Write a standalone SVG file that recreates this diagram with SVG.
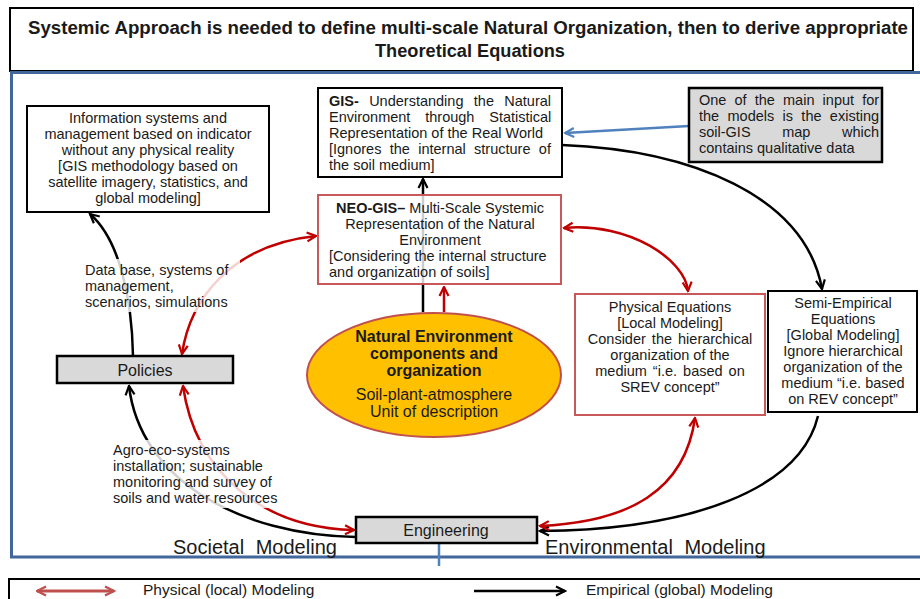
<svg xmlns="http://www.w3.org/2000/svg" width="920" height="599" viewBox="0 0 920 599">
<style>
  text { font-family: "Liberation Sans", Arial, sans-serif; fill: #1a1a1a; }
  .t { font-size: 14.5px; }
  .c { text-anchor: middle; }
  .b { font-weight: bold; }
  .box { fill: #fff; stroke: #000; stroke-width: 2; }
  .grey { fill: #d9d9d9; stroke: #000; stroke-width: 2.5; }
  .redbox { fill: #fff; stroke: #c9585a; stroke-width: 2; }
  .blk { fill: none; stroke: #000; stroke-width: 2.5; }
  .red { fill: none; stroke: #c00000; stroke-width: 2.5; }
  .blue { fill: none; stroke: #4f81bd; stroke-width: 2.5; }
  .frame { fill: none; stroke: #41679b; stroke-width: 3; }
  .lbl { fill: #fff; fill-opacity: 0.82; stroke: none; }
</style>
<defs>
  <marker id="ab" viewBox="0 0 12 12" refX="10.5" refY="6" markerWidth="12" markerHeight="12" markerUnits="userSpaceOnUse" orient="auto-start-reverse">
    <path d="M1.5,1.5 L10.5,6 L1.5,10.5" fill="none" stroke="#000" stroke-width="2.2"/>
  </marker>
  <marker id="ar" viewBox="0 0 12 12" refX="10.5" refY="6" markerWidth="12" markerHeight="12" markerUnits="userSpaceOnUse" orient="auto-start-reverse">
    <path d="M1.5,1.5 L10.5,6 L1.5,10.5" fill="none" stroke="#c00000" stroke-width="2.2"/>
  </marker>
  <marker id="abl" viewBox="0 0 12 12" refX="10.5" refY="6" markerWidth="12" markerHeight="12" markerUnits="userSpaceOnUse" orient="auto-start-reverse">
    <path d="M1.5,1.5 L10.5,6 L1.5,10.5" fill="none" stroke="#4f81bd" stroke-width="2.2"/>
  </marker>
  <marker id="arl" viewBox="0 0 12 12" refX="10.5" refY="6" markerWidth="12" markerHeight="12" markerUnits="userSpaceOnUse" orient="auto-start-reverse">
    <path d="M1.5,1.5 L10.5,6 L1.5,10.5" fill="none" stroke="#c0504d" stroke-width="2.4"/>
  </marker>
</defs>

<rect width="920" height="599" fill="#fff"/>

<!-- title -->
<g id="title">
  <rect x="10" y="8" width="903" height="63" class="box"/>
  <text x="28" y="34" class="b" font-size="18" textLength="880" lengthAdjust="spacingAndGlyphs">Systemic Approach is needed to define multi-scale Natural Organization, then to derive appropriate</text>
  <text x="470" y="57" class="b c" font-size="18" textLength="190" lengthAdjust="spacingAndGlyphs">Theoretical Equations</text>
</g>

<!-- frame -->
<g id="frame">
  <line x1="10" y1="72.5" x2="920" y2="72.5" class="frame"/>
  <line x1="11.5" y1="72" x2="11.5" y2="557" class="frame"/>
  <line x1="10" y1="557" x2="920" y2="557" class="frame"/>
  <line x1="439" y1="537" x2="439" y2="566" class="blue" stroke-width="2"/>
  <text x="173" y="554" font-size="20" word-spacing="6">Societal Modeling</text>
  <text x="545" y="554" font-size="20" word-spacing="6">Environmental Modeling</text>
</g>

<!-- connectors -->
<g id="connectors">
  <path d="M562,145 C690,150 805,195 822,289" class="blk" marker-end="url(#ab)"/>
  <path d="M818,416 C800,490 690,530 540,531" class="blk" marker-end="url(#ab)"/>
  <path d="M356,537 C240,535 140,480 129,386" class="blk" marker-end="url(#ab)"/>
  <path d="M133,356 C132,300 120,240 90,214" class="blk" marker-end="url(#ab)"/>
  <path d="M423,312 L423,179" class="blk" marker-end="url(#ab)"/>
  <path d="M182,354 C190,300 230,245 316,236" class="red" marker-start="url(#ar)" marker-end="url(#ar)"/>
  <path d="M564,228 C630,222 685,260 688,291" class="red" marker-start="url(#ar)" marker-end="url(#ar)"/>
  <path d="M444,312 L444,287" class="red" marker-end="url(#ar)"/>
  <path d="M183,386 C195,470 260,528 354,530" class="red" marker-start="url(#ar)" marker-end="url(#ar)"/>
  <path d="M695,418 C685,490 630,522 540,526" class="red" marker-start="url(#ar)" marker-end="url(#ar)"/>
  <path d="M689,126 L565,133" class="blue" marker-end="url(#abl)"/>
</g>

<!-- nodes -->
<g id="info">
  <rect x="27" y="106" width="242" height="106" class="box"/>
  <text class="t c" x="148" y="123">Information systems and</text>
  <text class="t c" x="148" y="139">management based on indicator</text>
  <text class="t c" x="148" y="155">without any physical reality</text>
  <text class="t c" x="148" y="171">[GIS methodology based on</text>
  <text class="t c" x="148" y="187">satellite imagery, statistics, and</text>
  <text class="t c" x="148" y="203">global modeling]</text>
</g>

<g id="gis">
  <rect x="318" y="88" width="244" height="89" class="box"/>
  <text class="t" x="329" y="106" word-spacing="6.3"><tspan class="b">GIS-</tspan> Understanding the Natural</text>
  <text class="t" x="329" y="122" word-spacing="10.8">Environment through Statistical</text>
  <text class="t" x="329" y="138">Representation of the Real World</text>
  <text class="t" x="329" y="154" word-spacing="4.3">[Ignores the internal structure of</text>
  <text class="t" x="329" y="170">the soil medium]</text>
</g>

<g id="soilgis">
  <rect x="689" y="88" width="193" height="74" class="grey"/>
  <text class="t" x="699" y="105" word-spacing="4.1">One of the main input for</text>
  <text class="t" x="699" y="121" word-spacing="4.3">the models is the existing</text>
  <text class="t" x="699" y="137" word-spacing="27.6">soil-GIS map which</text>
  <text class="t" x="699" y="153">contains qualitative data</text>
</g>

<g id="neogis">
  <rect x="318" y="195" width="243" height="89" class="redbox" fill-opacity="0.8"/>
  <text class="t c" x="440" y="213"><tspan class="b">NEO-GIS–</tspan>  Multi-Scale Systemic</text>
  <text class="t c" x="440" y="229">Representation of the Natural</text>
  <text class="t c" x="440" y="245">Environment</text>
  <text class="t" x="329" y="261">[Considering the internal structure</text>
  <text class="t" x="329" y="277">and organization of soils]</text>
</g>

<g id="natural">
  <ellipse cx="434" cy="375" rx="127" ry="62" fill="#ffc000" stroke="#c0504d" stroke-width="2"/>
  <text class="b c" font-size="16" x="434" y="342">Natural Environment</text>
  <text class="b c" font-size="16" x="434" y="359">components and</text>
  <text class="b c" font-size="16" x="434" y="376">organization</text>
  <text class="c" font-size="16" x="434" y="400">Soil-plant-atmosphere</text>
  <text class="c" font-size="16" x="434" y="417">Unit of description</text>
</g>

<g id="physical">
  <rect x="575" y="294" width="190" height="121" class="redbox"/>
  <text class="t c" x="670" y="312">Physical Equations</text>
  <text class="t c" x="670" y="328">[Local Modeling]</text>
  <text class="t c" x="670" y="344" word-spacing="2">Consider the hierarchical</text>
  <text class="t c" x="670" y="360">organization of the</text>
  <text class="t c" x="670" y="376" word-spacing="2">medium “i.e. based on</text>
  <text class="t c" x="670" y="392">SREV concept”</text>
</g>

<g id="semiempirical">
  <rect x="768" y="291" width="149" height="121" class="box" stroke-width="2.5"/>
  <text class="t c" x="843" y="308">Semi-Empirical</text>
  <text class="t c" x="843" y="324">Equations</text>
  <text class="t c" x="843" y="340">[Global Modeling]</text>
  <text class="t c" x="843" y="356">Ignore hierarchical</text>
  <text class="t c" x="843" y="372">organization of the</text>
  <text class="t c" x="843" y="388">medium “i.e. based</text>
  <text class="t c" x="843" y="404">on REV concept”</text>
</g>

<g id="policies">
  <rect x="57" y="356" width="176" height="27" class="grey"/>
  <text class="c" font-size="16" x="145" y="375.5">Policies</text>
</g>

<g id="engineering">
  <rect x="356" y="517" width="181" height="26" class="grey"/>
  <text class="c" font-size="16" x="446" y="535.5">Engineering</text>
</g>

<!-- connector labels -->
<g id="labels">
  <rect x="80" y="259" width="160" height="53" class="lbl"/>
  <text class="t" font-size="15" x="85" y="275">Data base, systems of</text>
  <text class="t" font-size="15" x="85" y="291">management,</text>
  <text class="t" font-size="15" x="85" y="307">scenarios, simulations</text>
  <rect x="108" y="440" width="178" height="68" class="lbl"/>
  <text class="t" font-size="15" x="113" y="455">Agro-eco-systems</text>
  <text class="t" font-size="15" x="113" y="471">installation; sustainable</text>
  <text class="t" font-size="15" x="113" y="487">monitoring and survey of</text>
  <text class="t" font-size="15" x="113" y="503">soils and water resources</text>
</g>

<!-- legend -->
<g id="legend">
  <rect x="9" y="579" width="940" height="40" class="box"/>
  <path d="M37,591 L114,591" fill="none" stroke="#c0504d" stroke-width="3" marker-start="url(#arl)" marker-end="url(#arl)"/>
  <text font-size="15.5" x="143" y="595">Physical (local) Modeling</text>
  <path d="M474,591 L565,591" class="blk" marker-end="url(#ab)"/>
  <text font-size="15.5" x="586" y="595">Empirical (global) Modeling</text>
</g>
</svg>
